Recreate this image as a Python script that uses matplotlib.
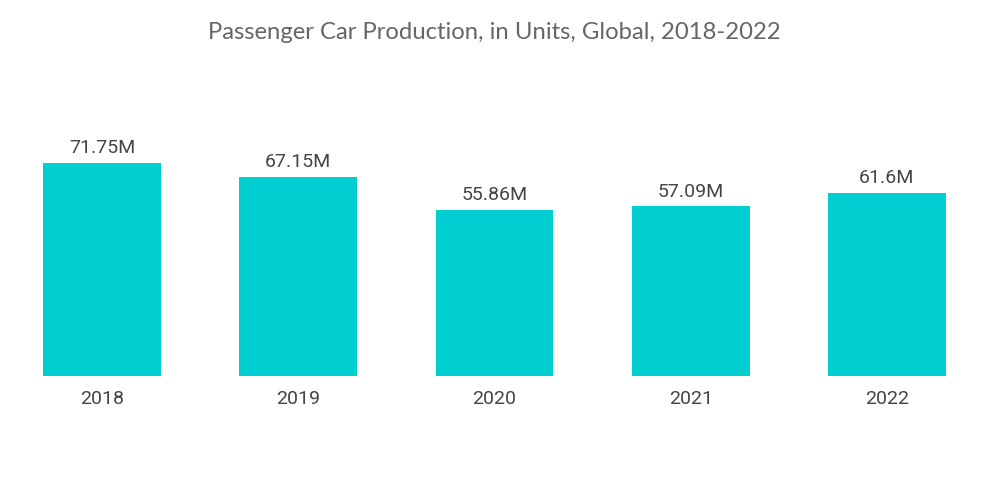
import matplotlib.pyplot as plt
import numpy as np

# data
years = ['2018', '2019', '2020', '2021', '2022']
production = [71.75, 67.15, 55.86, 57.09, 61.6]
labels = ['71.75M', '67.15M', '55.86M', '57.09M', '61.6M']

plt.rcParams['font.family'] = ['Roboto', 'DejaVu Sans']

fig = plt.figure(figsize=(10, 5.04), dpi=100)
# axes: left 4px, right 985px, bottom at 376px
ax = fig.add_axes([0.004, 1 - 376 / 504, 0.981, 276 / 504])

x = np.arange(len(years))
bars = ax.bar(x, production, width=0.6, color='#00CED1')

for xi, v, lab in zip(x, production, labels):
    ax.text(xi, v + 1.9, lab, ha='center', va='bottom', fontsize=14, color='#444444')

ax.set_xlim(-0.5, 4.5)
ax.set_ylim(0, 276 / 2.97)
ax.set_xticks(x)
ax.set_xticklabels(years, fontsize=14, color='#444444')
ax.tick_params(axis='x', length=0, pad=10)
ax.set_yticks([])
for s in ax.spines.values():
    s.set_visible(False)

fig.text(0.494, 0.936, 'Passenger Car Production, in Units, Global, 2018-2022',
         ha='center', va='center', fontsize=17.2, color='#666666',
         family=['Lato', 'DejaVu Sans'])

fig.savefig('out.png', dpi=100)
